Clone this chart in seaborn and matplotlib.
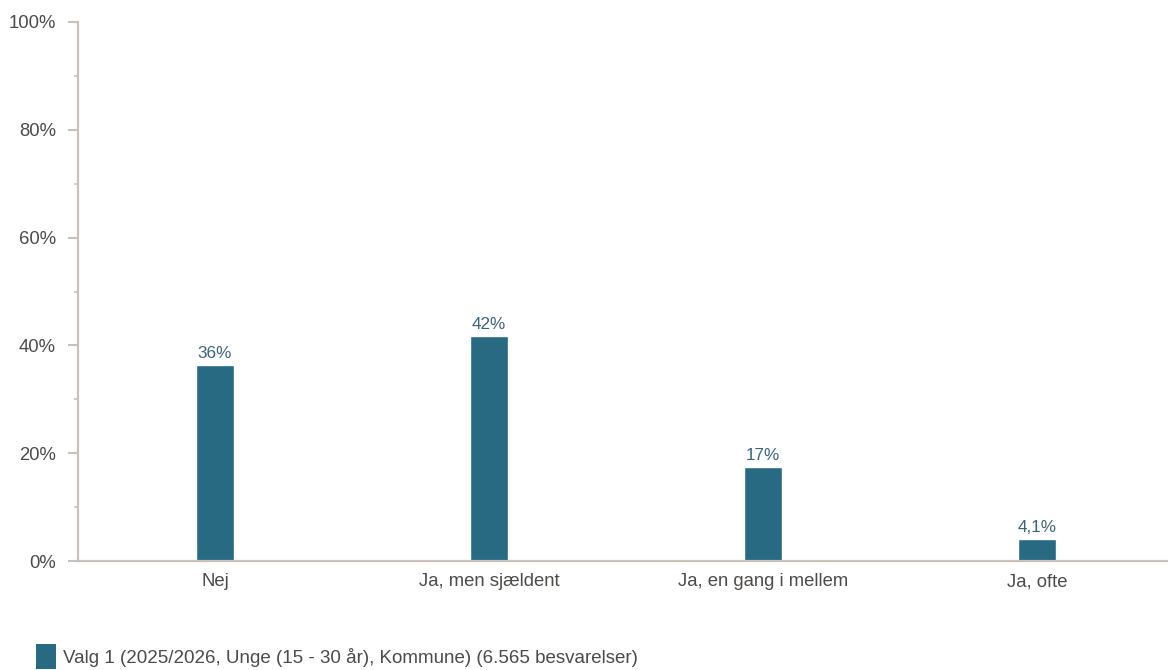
import numpy as np
import pandas as pd
import matplotlib
matplotlib.use("Agg")
import matplotlib.pyplot as plt
import seaborn as sns
from matplotlib.patches import Patch

# data
categories = ["Nej", "Ja, men sjældent", "Ja, en gang i mellem", "Ja, ofte"]
values = [36.4, 41.8, 17.4, 4.1]
value_labels = ["36%", "42%", "17%", "4,1%"]
y_ticks = [0, 20, 40, 60, 80, 100]
y_minor = [10, 30, 50, 70, 90]
series_name = "Valg 1 (2025/2026, Unge (15 - 30 år), Kommune) (6.565 besvarelser)"

bar_color = "#276a82"
axis_color = "#c9c1bc"
text_color = "#4d4a48"
label_color = "#3a6478"

sns.set_style("white")
plt.rcParams['font.family'] = ['Liberation Sans', 'DejaVu Sans']

df = pd.DataFrame({"kategori": categories, "andel": values})

fig = plt.figure(figsize=(11.68, 6.70), dpi=100)
ax = fig.add_axes([78 / 1168, 109 / 670, 1 - 78 / 1168, (561 - 22) / 670])

sns.barplot(data=df, x="kategori", y="andel", color=bar_color, width=0.14,
            saturation=1, ax=ax)

ax.set_ylim(0, 100)
ax.set_xlim(-0.5, 3.478)
ax.set_yticks(y_ticks)
ax.set_yticklabels([f"{t}%" for t in y_ticks])
ax.set_yticks(y_minor, minor=True)
ax.set_xlabel("")
ax.set_ylabel("")

for side in ["top", "right"]:
    ax.spines[side].set_visible(False)
for side in ["left", "bottom"]:
    ax.spines[side].set_color(axis_color)
    ax.spines[side].set_linewidth(1.6)

ax.tick_params(axis="y", which="major", length=7, width=1.5, color=axis_color,
               labelsize=13.3, labelcolor=text_color, pad=9, left=True)
ax.tick_params(axis="y", which="minor", length=3, width=1.2, color=axis_color, left=True)
ax.tick_params(axis="x", length=0, labelsize=13.3, labelcolor=text_color, pad=9)

ax.bar_label(ax.containers[0], labels=value_labels, padding=3, fontsize=12.3,
             color=label_color)

handle = Patch(facecolor=bar_color, edgecolor="none")
fig.legend([handle], [series_name], loc="upper left",
           bbox_to_anchor=(19 / 1168, 1 - 627 / 670), frameon=False,
           fontsize=13.5, handlelength=1.05, handleheight=1.7, handletextpad=0.4,
           labelcolor=text_color)

fig.savefig("out.png", dpi=100)
plt.close(fig)
